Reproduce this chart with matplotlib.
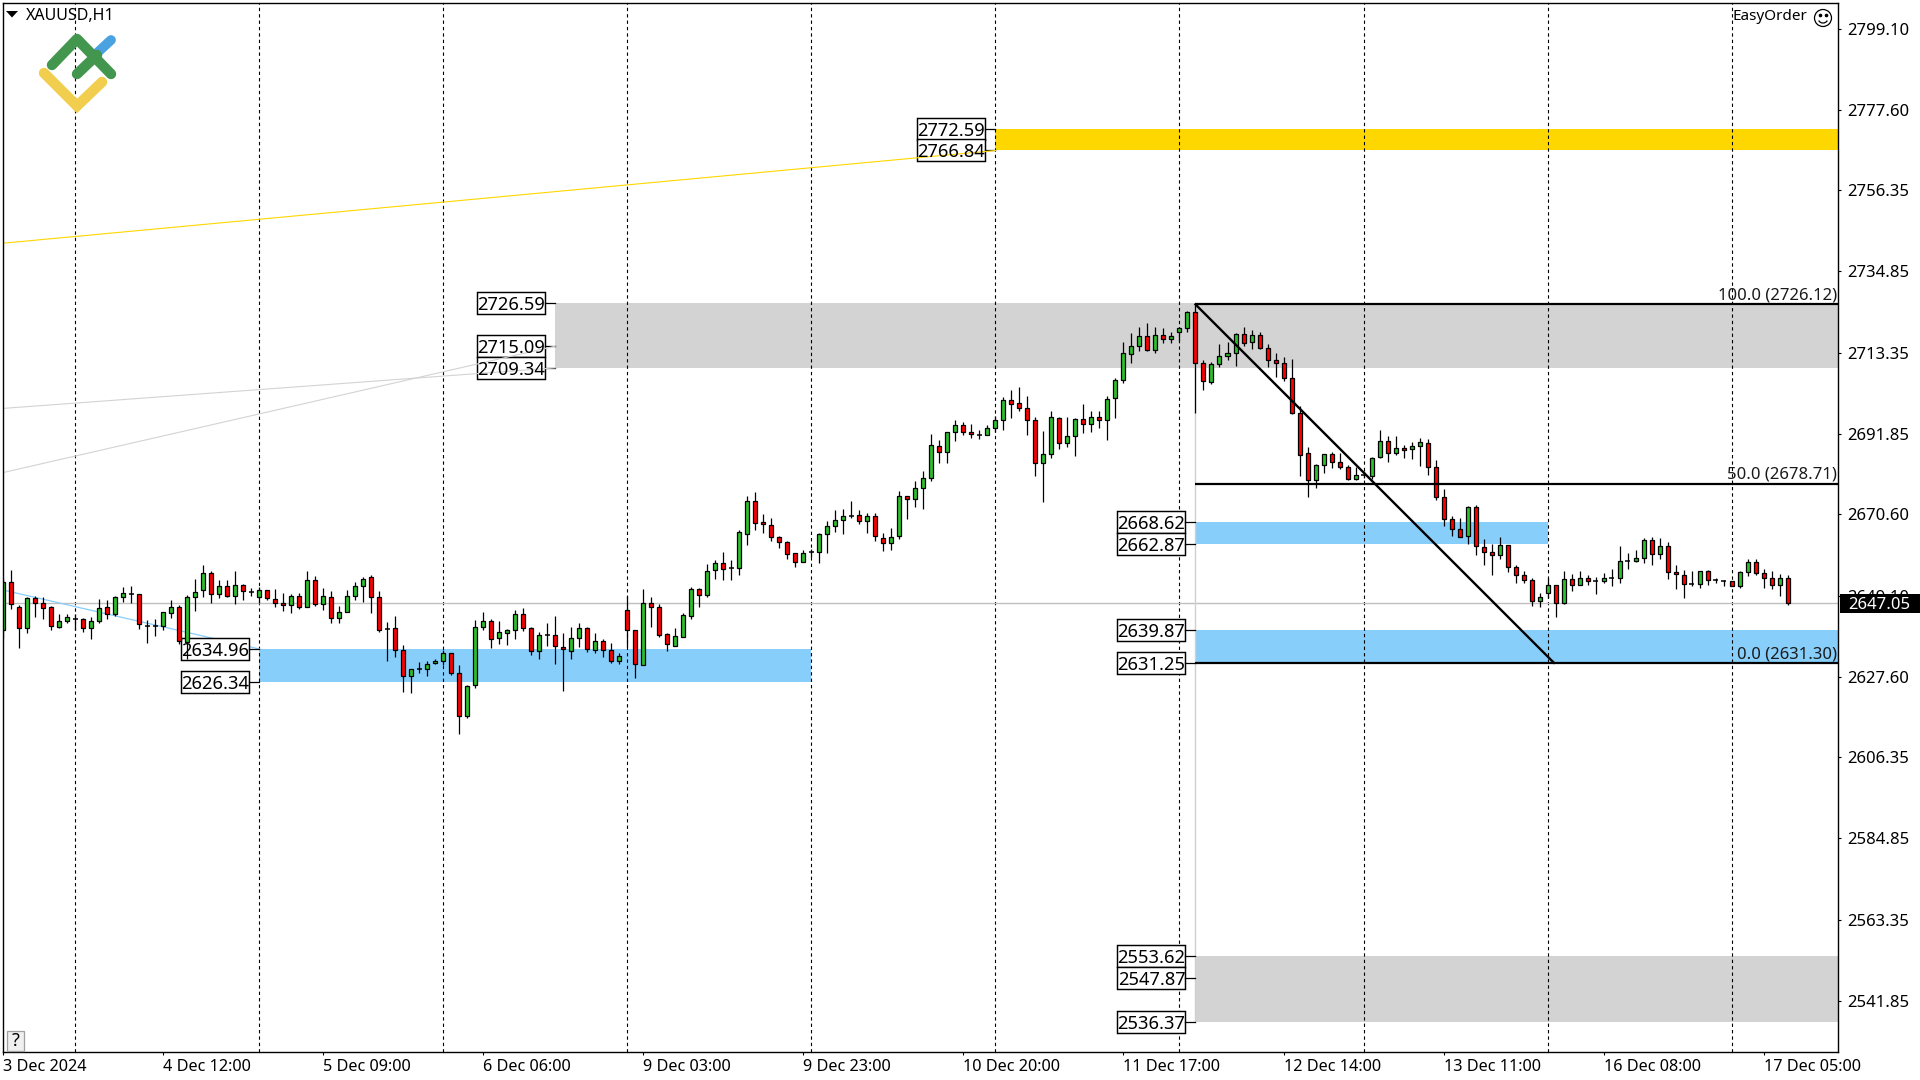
import matplotlib
matplotlib.use('Agg')
import matplotlib.pyplot as plt
from matplotlib.patches import Rectangle, Circle, Arc, Polygon

plt.rcParams['font.family'] = ['Noto Sans', 'DejaVu Sans']
plt.rcParams['lines.scale_dashes'] = False

# XAUUSD H1, values
opens = [
    2640.0, 2652.8, 2646.0, 2640.4, 2648.4, 2647.0, 2646.0, 2640.8, 2642.3, 2642.8,
    2642.8, 2640.4, 2642.3, 2646.0, 2644.3, 2648.6, 2649.6, 2649.4, 2641.1, 2641.1,
    2641.0, 2644.4, 2646.2, 2636.8, 2648.6, 2650.5, 2655.0, 2649.4, 2651.5, 2648.9,
    2651.8, 2650.1, 2648.6, 2650.5, 2648.1, 2647.0, 2646.5, 2648.9, 2646.2, 2653.1,
    2646.8, 2648.6, 2643.2, 2644.7, 2648.9, 2651.5, 2653.9, 2648.6, 2640.3, 2640.4,
    2634.8, 2627.9, 2629.8, 2629.8, 2631.3, 2631.9, 2633.8, 2628.7, 2617.3, 2625.5,
    2640.7, 2642.3, 2637.9, 2639.3, 2639.9, 2644.1, 2640.6, 2634.3, 2638.6, 2638.6,
    2635.6, 2634.3, 2637.8, 2640.4, 2634.7, 2637.2, 2634.8, 2631.9, 2645.4, 2640.1,
    2630.8, 2647.0, 2646.2, 2638.8, 2635.8, 2638.2, 2643.8, 2650.8, 2649.3, 2655.8,
    2657.7, 2656.3, 2656.3, 2665.5, 2674.1, 2668.5, 2667.7, 2664.7, 2663.2, 2660.3,
    2657.9, 2660.7, 2660.5, 2665.3, 2667.4, 2669.1, 2670.2, 2670.4, 2668.7, 2670.1,
    2664.4, 2662.9, 2664.9, 2675.4, 2674.6, 2677.5, 2680.3, 2688.6, 2687.0, 2692.4,
    2694.2, 2692.4, 2691.7, 2691.6, 2693.4, 2695.5, 2700.8, 2700.0, 2698.7, 2695.5,
    2684.1, 2686.5, 2696.1, 2689.4, 2691.3, 2695.8, 2694.5, 2696.3, 2695.5, 2701.4,
    2706.2, 2713.0, 2715.2, 2717.8, 2714.1, 2718.1, 2717.0, 2718.9, 2719.9, 2724.2,
    2710.7, 2705.6, 2710.4, 2712.5, 2713.3, 2718.4, 2716.2, 2718.1, 2714.6, 2711.5,
    2710.7, 2706.7, 2697.4, 2686.8, 2679.7, 2683.6, 2686.6, 2684.4, 2683.1, 2679.9,
    2680.9, 2680.7, 2685.8, 2690.0, 2686.8, 2688.2, 2687.9, 2688.7, 2689.5, 2683.1,
    2675.2, 2669.3, 2666.7, 2664.8, 2672.5, 2661.9, 2660.6, 2659.8, 2662.4, 2656.6,
    2654.5, 2653.2, 2647.6, 2649.9, 2651.8, 2647.2, 2653.4, 2651.8, 2653.7, 2652.9,
    2652.9, 2653.8, 2653.7, 2658.2, 2658.2, 2659.0, 2663.7, 2660.0, 2662.2, 2655.3,
    2654.5, 2652.1, 2652.1, 2655.5, 2653.2, 2652.9, 2652.9, 2651.7, 2655.3, 2657.9,
    2655.0, 2653.7, 2651.8, 2653.7,
]
highs = [
    2653.7, 2655.9, 2646.6, 2648.6, 2649.0, 2648.6, 2646.3, 2644.2, 2644.2, 2644.2,
    2643.1, 2643.3, 2648.1, 2647.9, 2649.0, 2651.4, 2651.6, 2649.4, 2642.6, 2642.8,
    2644.7, 2647.9, 2646.6, 2649.2, 2653.5, 2657.2, 2655.6, 2653.2, 2653.2, 2655.6,
    2652.2, 2651.0, 2651.3, 2650.5, 2650.8, 2649.9, 2649.4, 2649.7, 2655.6, 2654.3,
    2651.0, 2650.3, 2646.3, 2650.6, 2652.7, 2653.9, 2654.6, 2650.3, 2642.1, 2643.7,
    2635.9, 2629.8, 2631.6, 2631.8, 2632.4, 2634.7, 2633.8, 2630.6, 2625.5, 2642.6,
    2644.7, 2642.9, 2642.3, 2640.2, 2645.3, 2645.7, 2640.9, 2639.4, 2641.8, 2643.7,
    2639.2, 2640.7, 2641.8, 2640.7, 2639.1, 2637.6, 2636.5, 2633.8, 2649.0, 2640.1,
    2650.8, 2648.6, 2646.8, 2639.3, 2640.4, 2644.4, 2651.4, 2651.0, 2657.4, 2658.5,
    2660.6, 2658.5, 2666.5, 2675.5, 2676.6, 2670.7, 2669.7, 2664.9, 2663.6, 2660.3,
    2661.1, 2661.5, 2665.6, 2668.9, 2671.8, 2672.1, 2674.2, 2671.8, 2670.9, 2670.9,
    2665.6, 2666.9, 2676.8, 2675.4, 2679.4, 2682.1, 2691.8, 2690.3, 2692.4, 2695.6,
    2695.0, 2694.5, 2692.9, 2694.3, 2696.7, 2701.7, 2703.6, 2704.4, 2702.0, 2696.4,
    2692.7, 2698.0, 2696.4, 2696.4, 2696.0, 2699.9, 2697.8, 2697.8, 2702.0, 2706.7,
    2716.1, 2718.6, 2720.2, 2721.1, 2720.1, 2720.0, 2718.8, 2720.2, 2724.5, 2726.1,
    2711.3, 2711.0, 2715.7, 2716.3, 2718.5, 2720.2, 2719.4, 2718.8, 2715.7, 2713.3,
    2712.3, 2711.8, 2699.3, 2688.4, 2683.9, 2686.6, 2687.1, 2686.8, 2683.6, 2683.1,
    2682.1, 2685.8, 2693.0, 2691.4, 2691.4, 2689.0, 2689.7, 2690.8, 2690.4, 2685.0,
    2677.3, 2670.1, 2669.6, 2672.9, 2673.0, 2664.0, 2662.7, 2664.5, 2662.4, 2657.1,
    2655.5, 2653.7, 2649.9, 2653.7, 2651.8, 2655.5, 2654.7, 2655.5, 2654.5, 2653.9,
    2655.0, 2656.1, 2662.3, 2660.3, 2661.1, 2664.3, 2664.5, 2664.4, 2663.2, 2657.1,
    2655.8, 2655.5, 2655.5, 2655.8, 2653.7, 2653.2, 2652.9, 2655.5, 2658.7, 2658.7,
    2656.1, 2655.5, 2654.7, 2654.5,
]
lows = [
    2637.8, 2645.6, 2635.3, 2639.1, 2643.5, 2643.0, 2640.0, 2640.6, 2641.9, 2640.1,
    2639.5, 2637.7, 2641.9, 2643.0, 2643.7, 2647.4, 2647.2, 2640.2, 2636.6, 2638.4,
    2640.1, 2643.2, 2636.4, 2632.2, 2645.1, 2648.8, 2647.0, 2648.5, 2648.8, 2646.8,
    2647.9, 2649.0, 2647.0, 2647.9, 2646.2, 2645.1, 2644.6, 2645.6, 2646.2, 2646.4,
    2645.4, 2641.9, 2641.9, 2644.7, 2647.9, 2647.5, 2644.4, 2639.5, 2631.8, 2632.9,
    2623.6, 2623.3, 2628.5, 2627.8, 2631.1, 2630.7, 2628.1, 2612.5, 2616.7, 2624.7,
    2640.1, 2635.3, 2636.3, 2636.0, 2637.6, 2639.8, 2633.3, 2632.3, 2635.7, 2631.0,
    2623.8, 2632.3, 2635.4, 2634.2, 2633.9, 2632.8, 2631.2, 2631.0, 2635.5, 2627.2,
    2630.8, 2640.8, 2638.2, 2634.4, 2635.8, 2638.2, 2642.9, 2646.1, 2648.8, 2653.5,
    2653.2, 2653.2, 2654.6, 2662.5, 2666.5, 2665.7, 2663.6, 2661.8, 2658.8, 2656.7,
    2657.9, 2659.2, 2657.7, 2660.4, 2666.0, 2665.4, 2669.5, 2668.1, 2665.7, 2663.6,
    2660.9, 2661.1, 2664.1, 2669.4, 2672.4, 2672.0, 2679.3, 2684.2, 2684.2, 2690.1,
    2691.6, 2690.9, 2690.6, 2691.5, 2692.3, 2693.0, 2696.2, 2697.8, 2691.6, 2680.8,
    2673.9, 2685.6, 2688.0, 2688.3, 2686.1, 2692.2, 2692.4, 2693.5, 2690.3, 2696.2,
    2705.3, 2710.7, 2713.7, 2713.8, 2713.2, 2715.9, 2715.9, 2716.4, 2718.7, 2697.4,
    2703.4, 2705.0, 2709.5, 2711.5, 2709.7, 2715.2, 2714.4, 2714.3, 2709.5, 2707.0,
    2705.8, 2697.1, 2680.7, 2675.1, 2677.5, 2681.4, 2682.9, 2682.6, 2679.6, 2679.6,
    2680.1, 2680.0, 2685.5, 2684.4, 2686.3, 2685.6, 2685.1, 2683.3, 2681.1, 2674.5,
    2667.6, 2664.9, 2664.5, 2662.8, 2659.7, 2657.3, 2654.6, 2658.9, 2655.4, 2652.3,
    2652.3, 2646.4, 2646.2, 2648.5, 2643.5, 2646.8, 2650.4, 2651.8, 2652.0, 2649.6,
    2652.4, 2651.7, 2652.3, 2656.1, 2657.9, 2657.8, 2657.3, 2658.9, 2653.6, 2650.9,
    2648.5, 2651.6, 2651.2, 2652.0, 2652.3, 2651.5, 2651.6, 2651.2, 2654.4, 2654.6,
    2651.2, 2650.9, 2649.1, 2646.7,
]
closes = [
    2652.8, 2646.9, 2640.4, 2648.4, 2647.0, 2645.9, 2641.0, 2642.3, 2643.3, 2642.8,
    2640.4, 2642.3, 2645.7, 2644.3, 2648.6, 2649.7, 2649.6, 2641.5, 2641.1, 2641.1,
    2644.7, 2646.2, 2637.0, 2648.6, 2650.0, 2655.0, 2649.4, 2651.5, 2648.9, 2651.8,
    2650.2, 2650.1, 2650.5, 2648.4, 2647.0, 2646.5, 2648.9, 2646.2, 2653.1, 2646.8,
    2648.9, 2643.2, 2644.7, 2648.9, 2651.5, 2653.4, 2648.6, 2640.1, 2640.3, 2634.8,
    2627.9, 2629.8, 2629.8, 2631.1, 2631.8, 2633.8, 2628.6, 2617.3, 2625.3, 2640.7,
    2642.3, 2637.7, 2639.4, 2639.9, 2644.1, 2640.6, 2634.3, 2638.6, 2638.6, 2635.8,
    2635.0, 2637.8, 2640.4, 2635.0, 2637.2, 2634.7, 2631.9, 2633.2, 2640.1, 2631.0,
    2647.0, 2646.2, 2638.7, 2636.2, 2638.3, 2643.9, 2650.8, 2649.3, 2655.5, 2657.7,
    2656.2, 2656.3, 2665.9, 2674.1, 2668.4, 2667.9, 2664.7, 2663.2, 2660.2, 2657.9,
    2660.3, 2660.7, 2665.3, 2667.5, 2669.1, 2670.1, 2670.2, 2668.7, 2670.1, 2664.8,
    2662.9, 2664.7, 2675.4, 2674.6, 2677.5, 2680.3, 2688.9, 2687.0, 2692.4, 2694.2,
    2692.4, 2691.8, 2691.7, 2693.4, 2695.5, 2700.8, 2699.7, 2698.7, 2695.5, 2684.1,
    2686.5, 2696.3, 2689.4, 2691.3, 2695.8, 2694.5, 2696.3, 2695.5, 2701.1, 2706.2,
    2713.3, 2715.2, 2717.8, 2714.1, 2718.1, 2717.0, 2717.8, 2719.9, 2724.2, 2710.7,
    2705.9, 2710.4, 2712.5, 2713.3, 2718.4, 2716.0, 2718.1, 2714.6, 2711.5, 2710.7,
    2706.6, 2697.4, 2686.3, 2679.7, 2683.6, 2686.6, 2684.4, 2683.1, 2679.9, 2681.0,
    2680.9, 2685.5, 2690.0, 2686.8, 2688.2, 2687.6, 2688.7, 2689.7, 2683.1, 2675.2,
    2669.3, 2666.7, 2664.7, 2672.5, 2662.1, 2660.6, 2659.8, 2662.4, 2656.6, 2654.5,
    2653.2, 2647.6, 2648.6, 2651.8, 2647.0, 2653.4, 2651.8, 2653.7, 2652.9, 2652.9,
    2653.7, 2653.8, 2658.2, 2658.2, 2659.0, 2663.7, 2660.0, 2662.2, 2655.3, 2654.7,
    2652.1, 2652.1, 2655.5, 2653.2, 2653.2, 2652.9, 2651.7, 2655.3, 2657.9, 2655.0,
    2653.7, 2651.8, 2653.7, 2647.05,
]

y_ticks = [2799.10, 2777.60, 2756.35, 2734.85, 2713.35, 2691.85, 2670.60,
           2649.10, 2627.60, 2606.35, 2584.85, 2563.35, 2541.85]
x_ticks = [0, 20, 40, 60, 80, 100, 120, 140, 160, 180, 200, 220]
x_labels = ['3 Dec 2024', '4 Dec 12:00', '5 Dec 09:00', '6 Dec 06:00', '9 Dec 03:00',
            '9 Dec 23:00', '10 Dec 20:00', '11 Dec 17:00', '12 Dec 14:00',
            '13 Dec 11:00', '16 Dec 08:00', '17 Dec 05:00']
period_seps = [9, 32, 55, 78, 101, 124, 147, 170, 193, 216]
last_price = 2647.05

# zones: start bar, end bar (None = to the right edge), top, bottom, colour, labels
zone_starts = [32, 69, 124, 149, 149, 149]
zone_ends = [101, None, None, 193, None, None]
zone_tops = [2634.96, 2726.59, 2772.59, 2668.62, 2639.87, 2553.62]
zone_bottoms = [2626.34, 2709.34, 2766.84, 2662.87, 2631.25, 2536.37]
zone_colors = ['#87CEFA', '#D3D3D3', '#FFD700', '#87CEFA', '#87CEFA', '#D3D3D3']
zone_labels = [[2634.96, 2626.34], [2726.59, 2715.09, 2709.34], [2772.59, 2766.84],
               [2668.62, 2662.87], [2639.87, 2631.25], [2553.62, 2547.87, 2536.37]]

fib_levels = [100.0, 50.0, 0.0]
fib_prices = [2726.12, 2678.71, 2631.30]

# trend lines from the left edge to the zones
yellow_x, yellow_y = [-0.1, 124], [2742.3, 2766.84]
grey_a_x, grey_a_y = [-0.1, 69], [2698.6, 2709.34]
grey_b_x, grey_b_y = [-0.1, 69], [2681.6, 2715.09]
blue_x, blue_y = [-0.1, 32], [2650.6, 2634.96]

PX_X = 8.0    # pixels per bar
PX_Y = 3.78   # pixels per dollar
xmax = 229.3

fig = plt.figure(figsize=(19.2, 10.8), dpi=100)
ax = fig.add_axes([2.5 / 1920, 28.5 / 1080, 1835.5 / 1920, 1049 / 1080])
ax.set_xlim(-0.1, xmax)
ax.set_ylim(last_price - (1051.5 - 603.3) / PX_Y, last_price + (603.3 - 2.5) / PX_Y)

# zones and their price labels
for start, end, top, bottom, color in zip(zone_starts, zone_ends, zone_tops, zone_bottoms, zone_colors):
    stop = xmax if end is None else end
    ax.add_patch(Rectangle((start, bottom), stop - start, top - bottom, fc=color, ec='none', zorder=1))

for x in period_seps:
    ax.axvline(x, color='black', lw=0.8, ls=(0, (2.4, 2.2)), zorder=2)

ax.axhline(last_price, color='#C0C0C0', lw=1.0, zorder=2)
ax.plot([149, 149], [fib_prices[0], zone_bottoms[5]], color='#D0D0D0', lw=1.0, zorder=2)

box_w = 68 / PX_X
box_h = 22 / PX_Y
gap = 10 / PX_X
for start, labels in zip(zone_starts, zone_labels):
    for price in labels:
        right = start - gap
        ax.add_patch(Rectangle((right - box_w, price - box_h / 2), box_w, box_h,
                               fc='white', ec='black', lw=1.05, zorder=3))
        ax.plot([right, start], [price, price], color='black', lw=0.9, zorder=3)
        ax.text(right - box_w / 2, price, f'{price:.2f}', ha='center', va='center_baseline',
                fontsize=13.2, color='black', zorder=6)

ax.plot(yellow_x, yellow_y, color='#FFD700', lw=0.8, zorder=4)
ax.plot(grey_a_x, grey_a_y, color='#D3D3D3', lw=0.8, zorder=4)
ax.plot(grey_b_x, grey_b_y, color='#D3D3D3', lw=0.8, zorder=4)
ax.plot(blue_x, blue_y, color='#87CEFA', lw=0.9, zorder=2)

# candles
bars = list(range(len(opens)))
ax.vlines(bars, lows, highs, color='black', lw=0.9, zorder=4)
for i, (o, c) in enumerate(zip(opens, closes)):
    if o == c:
        ax.plot([i - 0.3, i + 0.3], [o, o], color='black', lw=1.1, zorder=5, solid_capstyle='butt')
        continue
    color = '#2DC12D' if c > o else '#FF0000'
    ax.add_patch(Rectangle((i - 0.25, min(o, c)), 0.5, abs(c - o), fc=color, ec='black', lw=0.9, zorder=5))

# fibonacci
for level, price in zip(fib_levels, fib_prices):
    ax.plot([149, xmax], [price, price], color='black', lw=1.6, zorder=5, solid_capstyle='butt')
    ax.text(xmax - 0.1, price + 0.2, f'{level:.1f} ({price:.2f})', ha='right', va='bottom',
            fontsize=12, color='#1a1a1a', zorder=6)
ax.plot([149, 193.8], [fib_prices[0], fib_prices[2]], color='black', lw=1.7, zorder=5)

# axes
ax.yaxis.tick_right()
ax.set_yticks(y_ticks, [f'{v:.2f}' for v in y_ticks])
ax.set_xticks(x_ticks, x_labels, ha='left')
ax.tick_params(axis='y', length=2.4, width=0.8, pad=4, labelsize=12, colors='black')
ax.tick_params(axis='x', length=2.4, width=0.8, pad=3, labelsize=11.7, colors='black')
for s in ax.spines.values():
    s.set_linewidth(1.0)
    s.set_color('black')
    s.set_zorder(7)

# current price tag
tag = ax.get_yaxis_transform()
ax.add_patch(Rectangle((1.001, last_price - 2.5), 0.0436, 5.0, transform=tag, fc='black', ec='none',
                       clip_on=False, zorder=10))
ax.text(1.0225, last_price, f'{last_price:.2f}', transform=tag, ha='center', va='center_baseline',
        color='white', fontsize=12, zorder=11, clip_on=False)

# overlay in pixel coordinates: logo, title, terminal widgets
ov = fig.add_axes([0, 0, 1, 1], facecolor='none')
ov.set_xlim(0, 1920)
ov.set_ylim(1080, 0)
ov.axis('off')
ov.plot([97, 111], [53, 40], color='#4AA3E0', lw=7, solid_capstyle='round')
ov.plot([52, 77, 111], [65, 39, 74], color='#43964E', lw=7.5, solid_capstyle='round', solid_joinstyle='round')
ov.plot([77, 97], [74, 55], color='#43964E', lw=7.5, solid_capstyle='round')
ov.plot([44, 77, 102], [73, 106, 82], color='#F2CE4F', lw=7.5, solid_capstyle='round', solid_joinstyle='miter')
ov.add_patch(Polygon([[6, 11], [18, 11], [12, 17.5]], fc='black', ec='none'))
ov.text(26, 16, 'XAUUSD,H1', fontsize=11.5, va='center', ha='left', color='black')
ov.text(1733, 17, 'EasyOrder', fontsize=11, va='center', ha='left', color='black')
ov.add_patch(Circle((1823, 18), 8.5, fc='white', ec='black', lw=0.9))
ov.plot([1820, 1826], [15, 15], ls='none', marker='o', ms=1.6, color='black')
ov.add_patch(Arc((1823, 18), 10, 10, theta1=30, theta2=150, color='black', lw=0.9))
ov.add_patch(Rectangle((7, 1031), 17, 20, fc='#F0F0F0', ec='#A0A0A0', lw=0.9))
ov.text(15.5, 1041.5, '?', fontsize=13, ha='center', va='center', color='black')

fig.savefig('out.png', dpi=100, facecolor='white')
